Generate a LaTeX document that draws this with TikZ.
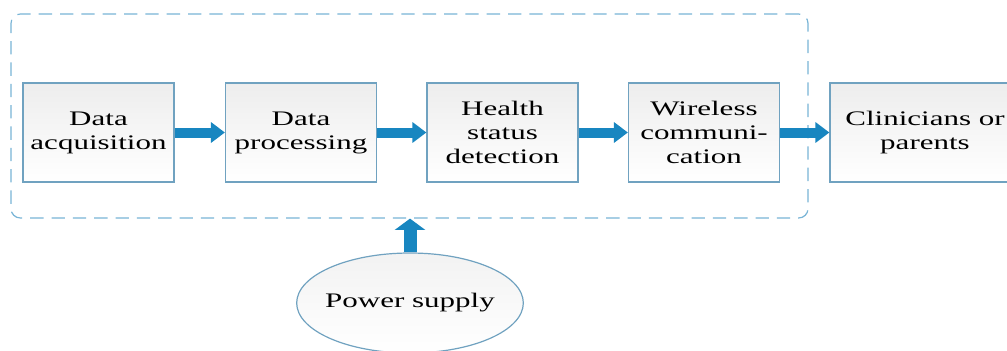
\documentclass[tikz,border=0pt]{standalone}
\usepackage{fontspec}
\setmainfont{Liberation Serif}[FakeStretch=1.5]
\usetikzlibrary{arrows.meta,shapes.geometric}

\definecolor{arrblue}{RGB}{24,134,192}
\definecolor{boxline}{RGB}{112,162,192}
\definecolor{dashline}{RGB}{120,180,214}

\tikzset{
  blockbox/.style={draw=boxline, line width=0.9pt, top color=black!7, bottom color=white,
    minimum width=113.25pt, minimum height=74.25pt, inner sep=1pt, align=center,
    font=\fontsize{15.5}{18}\selectfont},
  flowarrow/.style={arrblue, line width=7.5pt, -{Triangle[width=15pt,length=10.5pt]}},
  uparrow/.style={arrblue, line width=9.75pt, -{Triangle[width=22.5pt,length=8.5pt]}},
}

\begin{document}
\begin{tikzpicture}[x=0.75pt,y=-0.75pt]
\useasboundingbox (0,0) rectangle (1007,350);
\clip (0,0) rectangle (1007,350);

%Rounded Rect, dashed frame round the device
\node [draw=dashline, line width=0.9pt, dash pattern=on 10pt off 6pt, rounded corners=7pt,
  minimum width=597.75pt, minimum height=153pt] (frame) at (409.5,116) {};

% Text Node
\node [blockbox] (acq) at (98.5,132.5) {Data\\acquisition};
% Text Node
\node [blockbox] (proc) at (301,132.5) {Data\\processing};
% Text Node
\node [blockbox] (detect) at (502.5,132.5) {Health\\status\\detection};
% Text Node
\node [blockbox] (wireless) at (704,132.5) {Wireless\\communi-\\cation};
% Text Node
\node [blockbox, minimum width=142.5pt] (clin) at (925,132.5) {Clinicians or\\parents};

%Ellipse
\node [ellipse, draw=boxline, line width=0.9pt, top color=black!5, bottom color=white,
  minimum width=170pt, minimum height=75pt, inner sep=0pt,
  font=\fontsize{15.5}{18}\selectfont] (power) at (410,303) {\makebox[0pt]{Power supply}};

% Arrows
\draw [flowarrow] (acq) -- (proc);
\draw [flowarrow] (proc) -- (detect);
\draw [flowarrow] (detect) -- (wireless);
\draw [flowarrow] (wireless) -- (clin);
\draw [uparrow] (power.north) -- (power.north |- frame.south);

\end{tikzpicture}
\end{document}
